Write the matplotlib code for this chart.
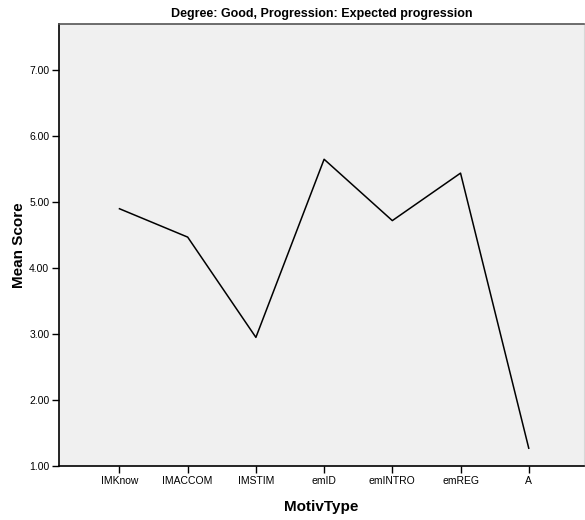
import matplotlib
matplotlib.use("Agg")
import matplotlib.pyplot as plt

# ---- DATA ----
motiv_types = ["IMKnow", "IMACCOM", "IMSTIM", "emID", "emINTRO", "emREG", "A"]
mean_scores = [4.90, 4.47, 2.95, 5.65, 4.72, 5.44, 1.27]
y_ticks = [1, 2, 3, 4, 5, 6, 7]
# --------------

plt.rcParams["font.family"] = ["Liberation Sans", "DejaVu Sans"]

fig = plt.figure(figsize=(5.85, 5.2), dpi=100)
ax = fig.add_axes([0.1009, 0.1038, 0.8974, 0.85])
ax.set_facecolor("#f0f0f0")

x = list(range(len(motiv_types)))
ax.plot(x, mean_scores, color="black", linewidth=1.1)

ax.set_xlim(-0.886, 6.81)
ax.set_ylim(1.0, 7.70)

ax.set_xticks(x)
ax.set_xticklabels(motiv_types, fontsize=7.5)
ax.set_yticks(y_ticks)
ax.set_yticklabels([f"{v:.2f}" for v in y_ticks], fontsize=7.5)
ax.tick_params(axis="both", direction="out", length=5, width=1, color="black", pad=2)

for side in ["left", "bottom"]:
    ax.spines[side].set_color("black")
    ax.spines[side].set_linewidth(1.2)
ax.spines["top"].set_color("#555555")
ax.spines["top"].set_linewidth(1.2)
ax.spines["right"].set_color("#d8d8d8")
ax.spines["right"].set_linewidth(0.8)

ax.set_title("Degree: Good, Progression: Expected progression",
             fontsize=9, fontweight="bold", pad=5)
ax.set_xlabel("MotivType", fontsize=11, fontweight="bold", labelpad=10)
ax.set_ylabel("Mean Score", fontsize=11, fontweight="bold", labelpad=2)

fig.savefig("out.png", dpi=100)
